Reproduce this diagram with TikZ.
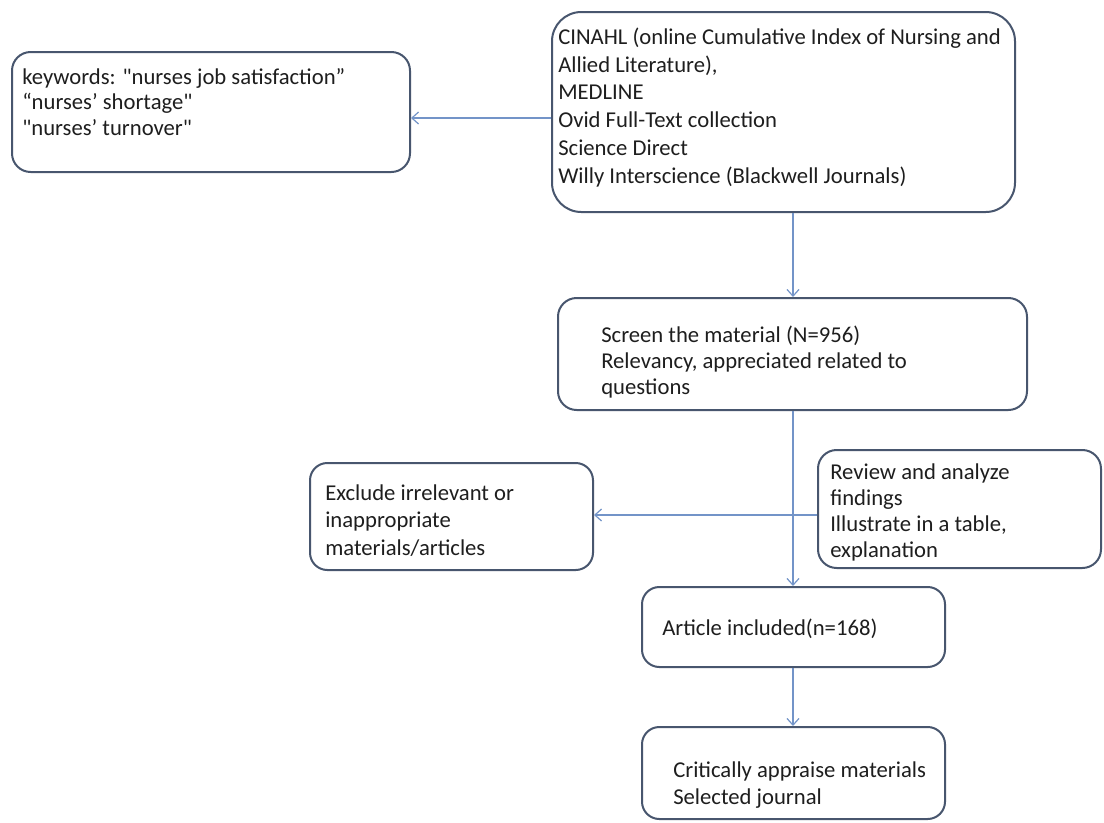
\documentclass[tikz,border=0pt]{standalone}
\usepackage{fontspec}
\setmainfont{Carlito}
\newfontfamily\kwfont{Carlito}
\usetikzlibrary{arrows.meta}
\definecolor{boxc}{RGB}{72,86,110}
\definecolor{linec}{RGB}{115,148,200}
\definecolor{txtc}{RGB}{30,30,30}
\begin{document}
\begin{tikzpicture}[x=0.75pt,y=-0.75pt,
  box/.style={draw=boxc, line width=1.5pt, inner sep=0pt, fill=white},
  txt/.style={anchor=base west, inner sep=0pt, align=left, text=txtc, font=\fontsize{17}{20.8}\selectfont},
  conn/.style={draw=linec, line width=0.9pt, -{Straight Barb[length=5pt,width=9pt]}}]
\useasboundingbox (0,0) rectangle (1104,822);
\fill[white] (0,0) rectangle (1104,822);
% boxes
\node[box, rounded corners=14pt, minimum width={398*0.75pt}, minimum height={120*0.75pt}] (A) at (211,112) {};
\node[box, rounded corners=22pt, minimum width={463*0.75pt}, minimum height={200*0.75pt}] (B) at (783.5,112) {};
\node[box, rounded corners=14pt, minimum width={469*0.75pt}, minimum height={112*0.75pt}] (C) at (792.5,354) {};
\node[box, rounded corners=13pt, minimum width={283*0.75pt}, minimum height={107*0.75pt}] (E) at (451.5,516.5) {};
\node[box, rounded corners=14pt, minimum width={283*0.75pt}, minimum height={118*0.75pt}] (F) at (959.5,509) {};
\node[box, rounded corners=13pt, minimum width={303*0.75pt}, minimum height={80*0.75pt}] (D) at (793.5,627) {};
\node[box, rounded corners=13pt, minimum width={303*0.75pt}, minimum height={92*0.75pt}] (G) at (793.5,773) {};
% texts (anchored at the baseline of their last line)
\node[txt, font=\fontsize{17}{19}\kwfont] (At) at (22,135) {keywords: "nurses job satisfaction”\\“nurses’ shortage"\\"nurses’ turnover"};
\node[txt] (Bt) at (558,183) {CINAHL (online Cumulative Index of Nursing and\\Allied Literature),\\MEDLINE\\Ovid Full-Text collection\\Science Direct\\Willy Interscience (Blackwell Journals)};
\node[txt, font=\fontsize{17}{19.5}\selectfont] (Ct) at (601,394) {Screen the material (N=956)\\Relevancy, appreciated related to\\questions};
\node[txt, font=\fontsize{17}{20.5}\selectfont] (Et) at (325,555) {Exclude irrelevant or\\inappropriate\\materials/articles};
\node[txt, font=\fontsize{17}{19.5}\selectfont] (Ft) at (830,557) {Review and analyze\\findings\\Illustrate in a table,\\explanation};
\node[txt] (Dt) at (662,635) {Article included(n=168)};
\node[txt, font=\fontsize{17}{20}\selectfont] (Gt) at (673,804) {Critically appraise materials\\Selected journal};
% connectors
\coordinate (bx) at (793,0);
\draw[conn] (B.west |- 0,118) -- (A.east |- 0,118);
\draw[conn] (bx |- B.south) -- (bx |- C.north);
\draw[conn] (bx |- C.south) -- (bx |- D.north);
\draw[conn] (F.west |- 0,515) -- (E.east |- 0,515);
\draw[conn] (bx |- D.south) -- (bx |- G.north);
\end{tikzpicture}
\end{document}
